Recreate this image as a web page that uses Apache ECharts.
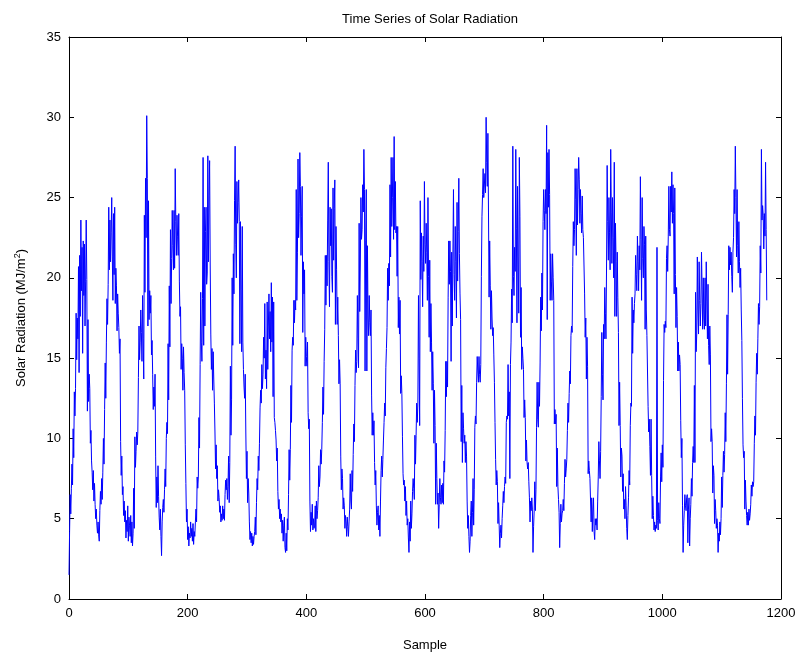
<!DOCTYPE html>
<html><head><meta charset="utf-8">
<script src="https://cdn.jsdelivr.net/npm/echarts@6/dist/echarts.min.js"></script>
<style>html,body{margin:0;padding:0;background:#fff}#c{width:803px;height:657px}</style>
</head><body><div id="c"></div>
<script>
// Weekly solar radiation samples (MJ/m^2)
const seg01 = [1.5, 4.2, 6.5, 5.3, 6.9, 8.4, 7.1, 10.6, 8.8, 12.9, 11.4, 13.1, 17.8, 14.9, 17.5, 16.2, 20.7, 14.1, 21.4, 17.6, 23.6, 19.2, 21.9, 15.3, 22.3, 18.9, 22.1, 17.0, 19.8, 23.6, 19.9, 11.7, 17.4, 12.3, 14.0, 13.1, 9.7, 10.5, 8.6, 7.9, 6.8, 8.0, 6.1, 7.2, 5.9, 5.0, 5.6, 4.6, 4.1];
const seg02 = [4.8, 4.0, 3.6, 5.5, 6.7, 5.9, 7.5, 6.2, 7.9, 10.0, 8.4, 11.8, 14.7, 12.5, 16.0, 18.7, 17.1, 19.6, 24.4, 20.5, 23.6, 21.0, 22.8, 25.0, 21.3, 18.6, 24.0, 20.2, 24.4, 18.4, 20.6, 19.5, 16.7, 19.0, 17.8, 16.9, 15.3, 16.2, 9.8, 7.7, 8.9, 6.5, 7.0, 5.2, 6.1, 4.8, 5.5, 3.8, 4.9, 4.2, 5.8, 3.6, 5.1];
const seg03 = [4.6, 3.9, 5.2, 3.5, 4.8, 3.3, 4.1, 6.9, 4.4, 10.1, 8.2, 9.2, 10.4, 9.6, 10.4, 13.8, 17.0, 14.9, 16.0, 18.0, 16.6, 14.8, 18.9, 16.2, 13.7, 23.9, 19.1, 26.2, 22.5, 30.1, 26.2, 17.0, 24.8, 17.4, 19.2, 17.8, 18.9, 15.2, 16.1, 14.0, 11.8, 13.2, 12.0, 14.0, 8.9, 5.7, 7.6, 6.0, 8.3, 6.4, 5.1, 4.3, 5.6, 3.9, 2.7];
const seg04 = [4.8, 5.7, 6.2, 5.4, 6.8, 8.1, 7.0, 10.0, 11.0, 10.3, 15.9, 12.4, 19.5, 15.7, 23.0, 18.4, 21.2, 24.2, 22.0, 20.5, 24.2, 20.6, 26.8, 23.5, 21.4, 23.9, 22.6, 21.4, 24.0, 19.8, 17.6, 18.2, 14.3, 15.9, 15.0, 13.0, 15.7, 14.1, 13.0, 9.6, 7.2, 4.8, 5.6, 3.7, 4.5, 3.3, 4.1, 3.8, 4.8, 3.9, 4.4];
const seg05 = [3.6, 4.7, 3.4, 4.2, 3.9, 4.8, 5.6, 4.8, 7.6, 6.9, 7.6, 11.3, 9.4, 14.6, 19.1, 16.0, 14.8, 18.7, 27.5, 15.8, 24.4, 17.0, 22.9, 24.4, 19.6, 20.3, 27.6, 21.0, 25.1, 27.3, 20.8, 16.5, 14.3, 15.6, 13.0, 15.4, 13.7, 12.2, 10.4, 8.1, 9.6, 7.5, 8.3, 6.1, 6.8, 6.3, 5.4, 5.8, 4.8, 5.3, 4.9, 5.8];
const seg06 = [5.0, 5.6, 4.9, 6.5, 7.4, 6.8, 7.5, 6.2, 7.0, 8.9, 6.0, 8.5, 14.5, 10.2, 12.4, 20.0, 15.8, 21.5, 19.0, 24.8, 28.2, 22.1, 20.0, 26.0, 23.4, 24.7, 26.1, 23.5, 15.9, 23.5, 19.3, 15.4, 23.2, 16.0, 14.3, 13.2, 12.5, 14.0, 10.4, 7.5, 9.2, 6.0, 7.5, 6.6, 4.8, 3.7, 4.2, 3.5, 4.1, 3.3, 3.9, 3.4];
const seg07 = [3.9, 4.2, 5.1, 4.0, 6.0, 7.5, 6.8, 8.9, 8.0, 9.7, 11.9, 13.0, 12.2, 14.6, 13.1, 14.0, 16.3, 15.0, 18.4, 13.7, 15.5, 13.1, 18.5, 14.3, 17.0, 19.0, 16.2, 17.9, 15.4, 19.7, 16.0, 18.8, 12.6, 18.5, 11.3, 11.0, 10.5, 9.9, 8.6, 9.4, 6.7, 5.6, 6.2, 5.0, 5.6, 4.8, 5.3, 4.1, 4.9, 3.6, 4.6, 5.1, 3.2];
const seg08 = [2.9, 4.1, 3.0, 5.0, 4.3, 6.5, 9.3, 7.4, 9.3, 13.3, 11.0, 15.5, 16.3, 15.8, 18.6, 17.2, 18.6, 18.0, 25.5, 18.6, 21.6, 27.4, 22.5, 24.0, 27.8, 25.7, 21.4, 23.8, 25.7, 16.6, 21.0, 19.0, 20.5, 14.5, 16.3, 15.1, 14.5, 16.0, 11.6, 10.6, 11.2, 6.1, 4.2, 5.4, 4.6, 5.9, 4.3, 5.0, 4.4];
const seg09 = [4.6, 5.8, 4.2, 6.1, 5.0, 5.5, 6.3, 8.3, 7.0, 7.6, 9.3, 8.4, 9.3, 11.0, 13.2, 11.5, 14.8, 16.8, 21.4, 18.3, 21.4, 19.5, 23.6, 27.2, 21.0, 18.2, 24.4, 22.0, 24.3, 20.1, 19.1, 25.6, 21.1, 24.3, 26.1, 17.1, 23.2, 20.5, 17.1, 18.8, 16.4, 13.4, 14.9, 13.4, 8.9, 6.8, 8.1, 7.5, 5.6, 6.3, 5.8, 4.4, 5.2, 4.8, 3.9];
const seg10 = [5.1, 4.5, 3.9, 4.8, 5.6, 7.8, 6.1, 5.6, 8.0, 6.7, 9.0, 10.9, 9.8, 13.3, 15.5, 14.1, 14.8, 18.9, 16.2, 14.4, 23.4, 17.9, 20.8, 25.0, 22.4, 23.0, 25.8, 24.1, 28.0, 25.5, 14.2, 22.3, 25.5, 14.2, 22.0, 17.5, 16.4, 18.9, 17.2, 16.4, 18.0, 12.7, 10.2, 11.6, 10.2, 11.1, 8.5, 7.1, 8.0, 5.8, 4.6, 5.4];
const seg11 = [5.8, 4.3, 5.2, 3.9, 6.1, 8.0, 8.9, 7.6, 8.7, 9.9, 11.0, 12.2, 11.4, 14.4, 15.6, 16.9, 20.6, 18.6, 20.9, 19.5, 25.8, 21.3, 27.5, 23.2, 25.0, 27.5, 22.4, 28.8, 23.0, 26.0, 22.8, 23.2, 20.1, 23.2, 16.9, 18.8, 16.5, 18.6, 12.8, 13.9, 12.8, 10.1, 7.8, 7.1, 7.4, 6.1, 7.0, 5.2, 6.1, 4.6, 5.0, 3.8];
const seg12 = [2.9, 4.8, 3.6, 6.1, 4.4, 5.3, 6.7, 7.5, 6.9, 6.2, 10.2, 8.4, 10.2, 12.2, 11.0, 12.2, 18.9, 15.0, 10.8, 24.8, 19.9, 22.8, 21.0, 18.2, 22.6, 20.4, 26.0, 22.1, 20.9, 23.4, 21.6, 18.6, 25.0, 20.1, 16.3, 21.1, 15.4, 18.4, 16.0, 13.0, 15.4, 13.4, 9.7, 13.0, 10.8, 5.9, 9.7, 7.5, 5.9, 6.6];
const seg13 = [4.4, 5.9, 7.5, 6.3, 5.9, 7.1, 6.0, 7.2, 5.9, 8.6, 7.9, 10.5, 14.8, 12.6, 14.8, 13.2, 18.8, 22.3, 19.6, 22.3, 20.4, 14.8, 21.6, 17.0, 17.1, 25.5, 20.2, 18.6, 23.2, 21.0, 17.5, 24.7, 19.8, 22.9, 26.2, 21.5, 19.0, 17.4, 9.8, 13.3, 8.5, 11.6, 10.6, 9.7, 10.2, 8.5, 9.8, 8.9, 6.1, 4.4, 5.2, 3.9, 2.9];
const seg14 = [3.6, 5.2, 6.1, 3.9, 5.4, 7.5, 4.6, 6.8, 10.7, 11.4, 10.9, 13.5, 15.1, 14.2, 13.5, 15.1, 14.0, 13.5, 14.6, 20.1, 23.8, 25.2, 26.8, 25.0, 24.9, 26.5, 25.3, 30.0, 27.2, 25.7, 29.0, 24.1, 18.8, 22.3, 19.5, 16.8, 19.2, 17.5, 16.4, 16.9, 15.2, 13.5, 11.0, 8.7, 7.1, 8.0, 7.3, 4.7, 6.0, 4.6, 3.2, 4.1];
const seg15 = [4.6, 3.8, 5.0, 5.8, 6.7, 6.0, 7.0, 7.6, 7.2, 11.0, 11.4, 11.2, 14.6, 11.4, 12.9, 7.5, 14.6, 16.0, 19.3, 17.2, 28.2, 20.1, 18.9, 21.9, 20.4, 28.0, 23.1, 17.2, 25.7, 21.3, 17.8, 27.5, 23.8, 16.3, 19.4, 14.3, 15.7, 15.0, 14.3, 11.3, 12.4, 11.3, 8.6, 9.9, 8.5, 8.1, 8.5, 7.3, 6.3, 4.8, 6.1, 5.5, 6.3, 5.6, 2.9, 4.5, 5.5];
const seg16 = [7.3, 5.5, 6.8, 10.7, 13.5, 11.2, 10.7, 13.5, 12.0, 14.7, 18.8, 16.7, 20.3, 18.0, 23.5, 25.5, 24.2, 23.0, 25.5, 24.0, 29.5, 17.4, 27.8, 24.4, 28.0, 25.2, 18.6, 21.5, 19.8, 18.6, 21.5, 20.0, 18.6, 10.9, 11.8, 10.9, 11.5, 7.0, 9.4, 7.0, 6.2, 5.4, 3.2, 4.7];
const seg17 = [5.9, 4.8, 5.3, 5.5, 6.2, 5.5, 7.2, 8.7, 7.6, 8.1, 8.7, 10.5, 12.2, 11.0, 12.8, 14.2, 13.4, 16.4, 17.0, 16.6, 20.7, 23.5, 22.0, 23.0, 26.8, 24.9, 21.4, 26.8, 23.3, 25.5, 27.5, 26.1, 23.4, 25.5, 24.0, 22.8, 25.1, 23.0, 22.5, 22.5, 19.0, 16.3, 17.5, 13.7, 16.3, 14.5, 7.8, 8.6, 8.0, 7.5, 7.6, 4.8, 6.3, 4.2, 5.6, 6.3];
const seg18 = [4.2, 3.7, 5.0, 4.6, 5.0, 4.3, 6.1, 7.6, 9.8, 8.6, 7.5, 9.2, 12.6, 16.6, 14.0, 12.4, 17.1, 16.2, 19.4, 17.8, 16.2, 20.8, 27.0, 23.5, 21.1, 25.0, 22.8, 20.5, 28.0, 24.1, 20.9, 25.0, 22.5, 20.0, 27.2, 17.6, 23.4, 21.0, 17.6, 21.6, 18.8, 16.6, 10.8, 13.5, 10.8, 7.6, 9.4, 8.9, 6.7, 7.8, 5.6, 6.2, 5.0, 7.0, 5.8];
const seg19 = [4.4, 3.7, 5.2, 6.3, 8.0, 7.1, 10.8, 12.2, 12.0, 18.8, 15.3, 18.0, 17.2, 18.4, 19.0, 21.4, 20.2, 19.2, 22.6, 21.0, 19.2, 22.0, 20.5, 26.3, 22.4, 18.6, 25.0, 21.2, 20.0, 23.2, 22.1, 16.8, 22.6, 18.0, 16.4, 16.4, 12.0, 10.4, 11.2, 9.5, 7.7, 11.2, 7.7, 5.0, 6.4, 5.2, 4.3, 4.8, 4.2, 4.6];
const seg20 = [4.4, 21.9, 4.9, 4.3, 6.0, 5.0, 4.7, 7.6, 9.1, 7.3, 9.6, 8.2, 13.6, 17.1, 16.6, 17.3, 16.9, 21.2, 22.0, 20.4, 22.6, 25.7, 23.0, 22.6, 25.7, 24.1, 26.6, 23.4, 25.8, 24.0, 19.0, 25.6, 20.2, 16.9, 19.4, 17.6, 14.2, 16.0, 14.2, 15.2, 14.6, 11.1, 8.8, 10.0, 5.8, 2.9, 4.6];
const seg21 = [5.5, 6.5, 5.8, 5.5, 6.3, 6.5, 3.5, 5.6, 6.3, 3.3, 5.0, 5.9, 7.5, 6.4, 8.5, 9.5, 8.5, 13.3, 8.5, 19.1, 15.4, 16.5, 21.3, 18.0, 16.5, 21.0, 18.6, 17.0, 18.4, 21.6, 19.3, 16.8, 20.0, 17.5, 16.8, 20.0, 17.0, 21.0, 18.5, 16.2, 19.6, 15.8, 14.6, 17.0, 15.2, 9.8, 10.6, 9.8, 6.6, 8.3, 7.7, 4.7, 6.2, 5.5, 4.4, 5.0, 4.6];
const seg22 = [2.9, 4.1, 3.6, 4.8, 4.0, 5.0, 7.6, 5.7, 7.7, 9.2, 7.9, 9.0, 11.6, 9.8, 13.4, 17.7, 14.0, 17.7, 22.0, 20.5, 21.9, 20.8, 21.6, 20.1, 19.1, 21.6, 22.5, 25.5, 24.0, 28.2, 25.0, 21.3, 25.5, 22.0, 20.3, 23.5, 21.0, 19.4, 20.6, 18.0, 16.1, 12.5, 9.6, 8.8, 9.2, 5.6, 7.4, 6.1, 5.2];
const seg23 = [4.6, 5.4, 4.6, 5.6, 4.9, 5.3, 5.9, 7.1, 6.4, 7.3, 7.0, 7.3, 9.7, 11.4, 10.2, 13.5, 15.3, 14.0, 16.2, 18.4, 17.1, 18.2, 22.0, 20.3, 28.0, 23.6, 24.5, 23.9, 21.8, 24.0, 22.6, 27.2, 23.0, 18.6];

const xTicks = [0, 200, 400, 600, 800, 1000, 1200];
const yTicks = [0, 5, 10, 15, 20, 25, 30, 35];

const values = [].concat(seg01, seg02, seg03, seg04, seg05, seg06, seg07, seg08, seg09, seg10, seg11, seg12,
  seg13, seg14, seg15, seg16, seg17, seg18, seg19, seg20, seg21, seg22, seg23);
const data = values.map((v, i) => [i, v]);

const FONT = '"Liberation Sans", Arial, Helvetica, sans-serif';
const txt = { color: '#000', fontFamily: FONT, fontSize: 13 };

function xAx(pos, show) {
  return {
    type: 'value', position: pos, min: xTicks[0], max: xTicks[xTicks.length - 1],
    interval: xTicks[1] - xTicks[0],
    axisLine: { show: true, onZero: false, lineStyle: { color: '#000', width: 1 } },
    axisTick: { show: true, inside: true, length: 5, lineStyle: { color: '#000', width: 1 } },
    axisLabel: Object.assign({ show: show, margin: 8, formatter: v => String(v) }, txt),
    splitLine: { show: false },
    name: show ? 'Sample' : '', nameLocation: 'middle', nameGap: 40,
    nameTextStyle: txt
  };
}
function yAx(pos, show) {
  return {
    type: 'value', position: pos, min: yTicks[0], max: yTicks[yTicks.length - 1],
    interval: yTicks[1] - yTicks[0],
    axisLine: { show: true, onZero: false, lineStyle: { color: '#000', width: 1 } },
    axisTick: { show: true, inside: true, length: 5, lineStyle: { color: '#000', width: 1 } },
    axisLabel: Object.assign({ show: show, margin: 8, formatter: v => String(v) }, txt),
    splitLine: { show: false },
    name: show ? '{a|Solar Radiation (MJ/m}{s|2}{a|)}' : '', nameLocation: 'middle', nameGap: 40, nameRotate: 90,
    nameTextStyle: Object.assign({}, txt, {
      rich: {
        a: { fontFamily: FONT, fontSize: 13, color: '#000' },
        s: { fontFamily: FONT, fontSize: 9, color: '#000', verticalAlign: 'top', padding: [0, 0, 7, 0] }
      }
    })
  };
}

const chart = echarts.init(document.getElementById('c'), null, { renderer: 'canvas' });
chart.setOption({
  animation: false,
  backgroundColor: '#fff',
  title: {
    text: 'Time Series of Solar Radiation', left: 425, top: 8, textAlign: 'center',
    textStyle: Object.assign({ fontWeight: 'normal' }, txt)
  },
  grid: { left: 69, right: 22, top: 37, bottom: 57 },
  xAxis: [xAx('bottom', true), xAx('top', false)],
  yAxis: [yAx('left', true), yAx('right', false)],
  series: [{
    type: 'line', data: data, xAxisIndex: 0, yAxisIndex: 0,
    showSymbol: false, symbol: 'none', smooth: false,
    lineStyle: { color: '#0000ff', width: 1 }
  }]
});
</script></body></html>
